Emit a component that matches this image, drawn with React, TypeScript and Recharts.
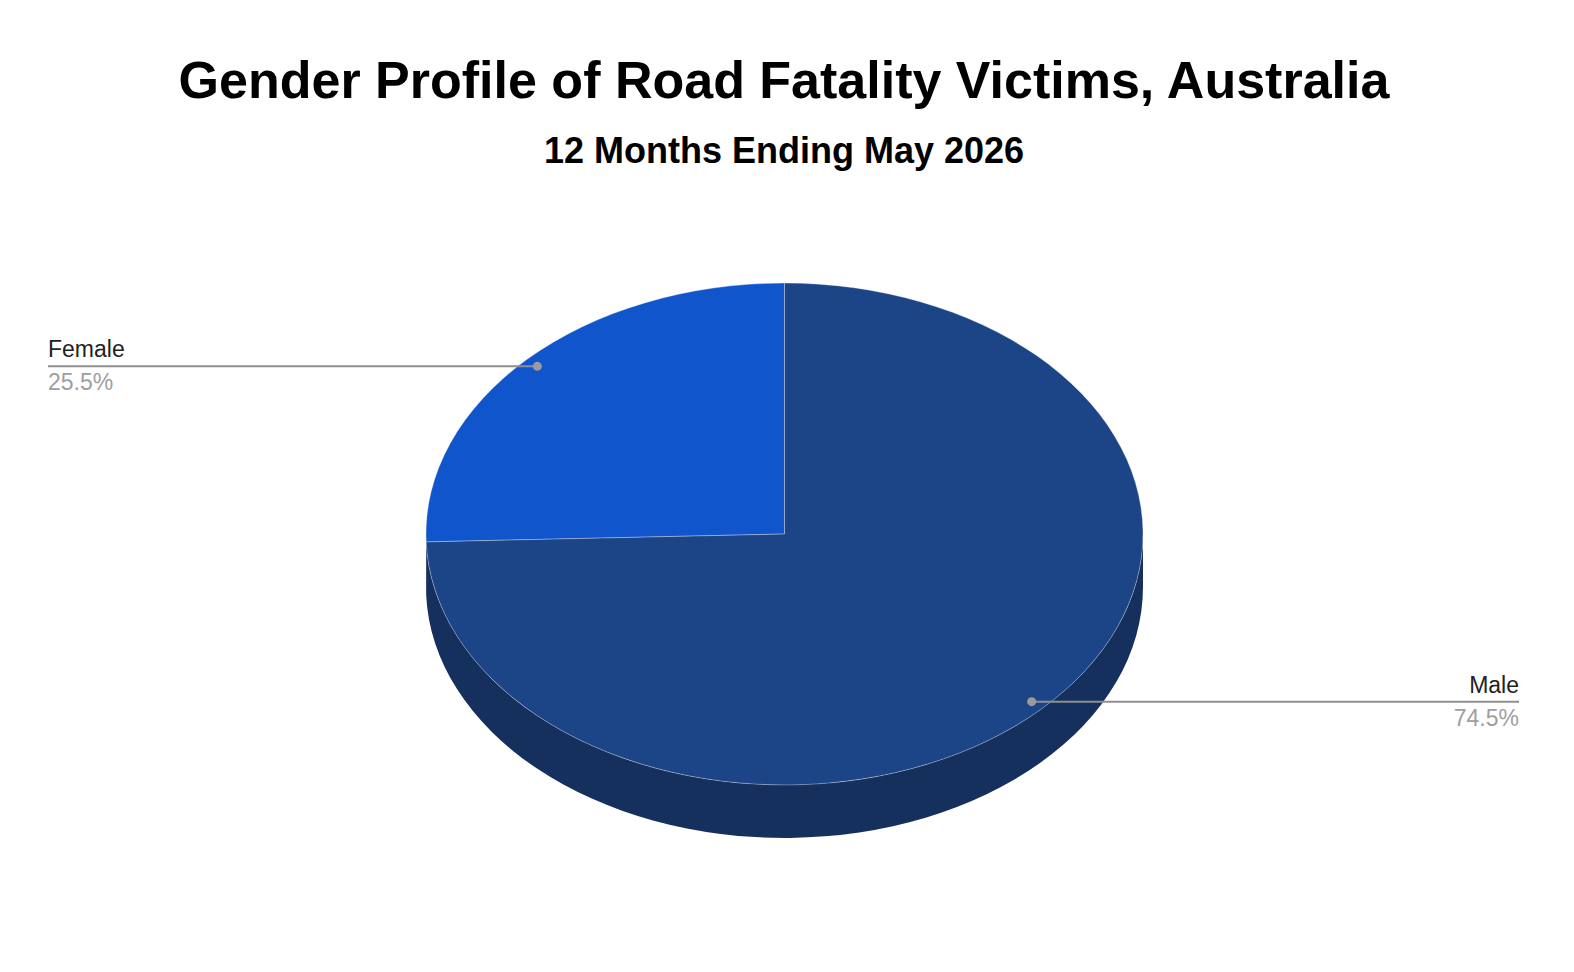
import { PieChart, Pie, Cell, Tooltip } from 'recharts';

const categories = ['Female', 'Male'];
const shares = [25.5, 74.5];
const topColors = ['#1155cc', '#1c4587'];
const sideColors = ['#0d3c8f', '#16305e'];

const chartData = categories.map((name, i) => ({ name, value: shares[i] }));

const CX = 784.5;
const CY = 534;
const RX = 358.5;
const TILT = 0.7;
const DEPTH = 53;
const RAD = Math.PI / 180;
const FONT = '"Liberation Sans", Arial, Helvetica, sans-serif';

const pt = (cx: number, cy: number, r: number, a: number, k = 1) => [
  cx + k * r * Math.cos(a * RAD),
  cy - k * r * TILT * Math.sin(a * RAD),
];

// elliptical slice for the top face
function TopSector(props: any) {
  const { cx, cy, outerRadius, startAngle, endAngle, fill } = props;
  const ry = outerRadius * TILT;
  const [x1, y1] = pt(cx, cy, outerRadius, startAngle);
  const [x2, y2] = pt(cx, cy, outerRadius, endAngle);
  const large = Math.abs(endAngle - startAngle) > 180 ? 1 : 0;
  const sweep = endAngle > startAngle ? 0 : 1;
  const d = `M${cx},${cy} L${x1},${y1} A${outerRadius},${ry} 0 ${large} ${sweep} ${x2},${y2} Z`;
  return <path d={d} fill={fill} stroke="#ffffff" strokeOpacity={0.3} strokeWidth={1} />;
}

// visible front wall of a slice
function SideSector(props: any) {
  const { cx, cy, outerRadius, startAngle, endAngle, fill } = props;
  const ry = outerRadius * TILT;
  const a0 = Math.min(startAngle, endAngle);
  const a1 = Math.max(startAngle, endAngle);
  const parts: string[] = [];
  for (let k = 0; k < 2; k++) {
    const lo = Math.max(a0, 180 + k * 360);
    const hi = Math.min(a1, 360 + k * 360);
    if (hi <= lo) continue;
    const [x1, y1] = pt(cx, cy, outerRadius, lo);
    const [x2, y2] = pt(cx, cy, outerRadius, hi);
    const large = hi - lo > 180 ? 1 : 0;
    parts.push(
      `M${x1},${y1} A${outerRadius},${ry} 0 ${large} 0 ${x2},${y2} L${x2},${y2 + DEPTH} A${outerRadius},${ry} 0 ${large} 1 ${x1},${y1 + DEPTH} Z`
    );
  }
  if (!parts.length) return <g />;
  return <path d={parts.join(' ')} fill={fill} stroke="none" />;
}

function SliceLabel(props: any) {
  const { cx, cy, outerRadius, midAngle, percent, name } = props;
  const [dx, dy] = pt(cx, cy, outerRadius, midAngle, 0.96);
  const left = dx < cx;
  const endX = left ? 48 : 1519;
  const anchor = left ? 'start' : 'end';
  return (
    <g>
      <line x1={dx} y1={dy} x2={endX} y2={dy} stroke="#8f8f8f" strokeWidth={2} />
      <circle cx={dx} cy={dy} r={4.5} fill="#9a9a9a" />
      <text x={endX} y={dy - 9} textAnchor={anchor} fontSize={23} fill="#222222" fontFamily={FONT}>
        {name}
      </text>
      <text x={endX} y={dy + 24} textAnchor={anchor} fontSize={23} fill="#9e9e9e" fontFamily={FONT}>
        {(percent * 100).toFixed(1)}%
      </text>
    </g>
  );
}

export default function App() {
  return (
    <div style={{ position: 'absolute', left: 0, top: 0, width: 1560, height: 950, overflow: 'hidden', background: '#ffffff' }}>
      <div
        style={{
          position: 'absolute', left: 0, top: 54, width: 1568, textAlign: 'center',
          fontFamily: FONT, fontWeight: 700, fontSize: 52, lineHeight: 1, color: '#000000',
        }}
      >
        Gender Profile of Road Fatality Victims, Australia
      </div>
      <div
        style={{
          position: 'absolute', left: 0, top: 133, width: 1568, textAlign: 'center',
          fontFamily: FONT, fontWeight: 700, fontSize: 36, lineHeight: 1, color: '#000000',
        }}
      >
        12 Months Ending May 2026
      </div>
      <div style={{ position: 'absolute', left: 0, top: 0 }}>
        <PieChart width={1560} height={950} margin={{ top: 0, right: 0, bottom: 0, left: 0 }}>
          <Tooltip defaultIndex={0} content={() => null} cursor={false} />
          <Pie
            data={chartData}
            dataKey="value"
            nameKey="name"
            cx={CX}
            cy={CY}
            outerRadius={RX}
            startAngle={90}
            endAngle={450}
            stroke="none"
            isAnimationActive={false}
            shape={SideSector}
            activeShape={SideSector}
            inactiveShape={SideSector}
          >
            {chartData.map((d, i) => (
              <Cell key={d.name} fill={sideColors[i]} />
            ))}
          </Pie>
          <Pie
            data={chartData}
            dataKey="value"
            nameKey="name"
            cx={CX}
            cy={CY}
            outerRadius={RX}
            startAngle={90}
            endAngle={450}
            isAnimationActive={false}
            shape={TopSector}
            activeShape={TopSector}
            inactiveShape={TopSector}
            label={SliceLabel}
            labelLine={false}
          >
            {chartData.map((d, i) => (
              <Cell key={d.name} fill={topColors[i]} />
            ))}
          </Pie>
        </PieChart>
      </div>
    </div>
  );
}
